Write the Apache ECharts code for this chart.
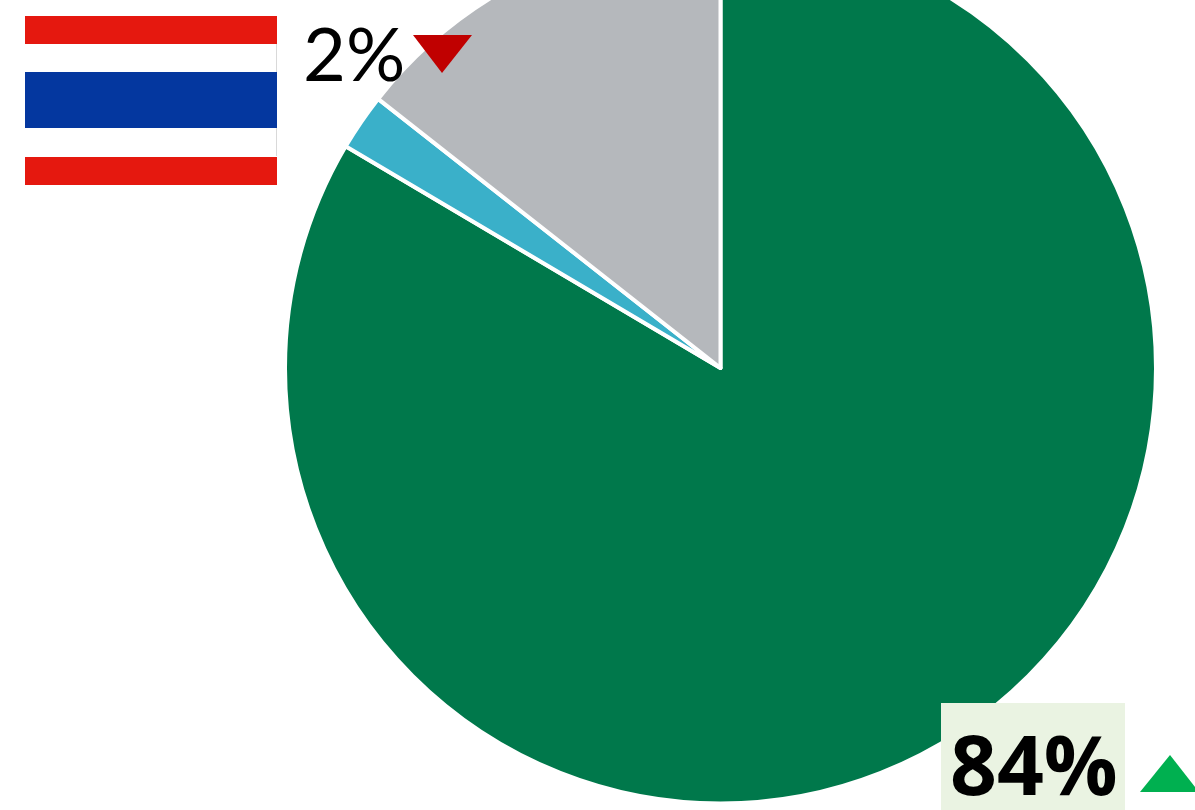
<!DOCTYPE html>
<html>
<head>
<meta charset="utf-8">
<style>html,body{margin:0;padding:0;background:#fff}#c{width:1195px;height:810px}</style>
<script src="https://cdn.jsdelivr.net/npm/echarts@6/dist/echarts.min.js"></script>
</head>
<body>
<div id="c"></div>
<script>
const sliceNames = ['Green', 'Blue', 'Grey'];
const sliceValues = [83.5, 2.1, 14.4];
const sliceColors = ['#00784B', '#3AB0C9', '#B5B8BC'];
const labelLow = '2%';
const labelHigh = '84%';

const chart = echarts.init(document.getElementById('c'), null, {renderer: 'canvas'});
const stripe = (y, h, fill) => ({type: 'rect', shape: {x: 25, y, width: 252, height: h}, style: {fill}, silent: true});
chart.setOption({
  animation: false,
  backgroundColor: '#fff',
  series: [{
    type: 'pie',
    center: [720.5, 368],
    radius: [0, 435.5],
    startAngle: 90,
    clockwise: true,
    label: {show: false},
    labelLine: {show: false},
    silent: true,
    itemStyle: {borderColor: '#fff', borderWidth: 4},
    data: sliceNames.map((name, i) => ({name, value: sliceValues[i], itemStyle: {color: sliceColors[i]}}))
  }],
  graphic: [
    {type: 'rect', z: 5, shape: {x: 276, y: 44, width: 1, height: 112}, style: {fill: '#D9D9D9'}, silent: true},
    Object.assign(stripe(16, 28, '#E5180F'), {z: 5}),
    Object.assign(stripe(72, 56, '#04379F'), {z: 5}),
    Object.assign(stripe(157, 28, '#E5180F'), {z: 5}),
    {type: 'text', z: 6, style: {x: 303, y: 57, text: labelLow, fill: '#000', fontSize: 74, fontWeight: 400, fontFamily: 'Lato', verticalAlign: 'middle'}},
    {type: 'polygon', z: 6, shape: {points: [[413, 35], [472, 35], [442, 73]]}, style: {fill: '#C00000'}},
    {type: 'rect', z: 5, shape: {x: 941, y: 703, width: 184, height: 107}, style: {fill: '#EAF3E2'}},
    {type: 'text', z: 6, style: {x: 950, y: 772, text: labelHigh, fill: '#000', fontSize: 82, fontWeight: 'bold', fontFamily: 'Open Sans', verticalAlign: 'middle'}},
    {type: 'polygon', z: 6, shape: {points: [[1140, 792], [1199, 792], [1170, 755]]}, style: {fill: '#00B050'}}
  ]
});
</script>
</body>
</html>
